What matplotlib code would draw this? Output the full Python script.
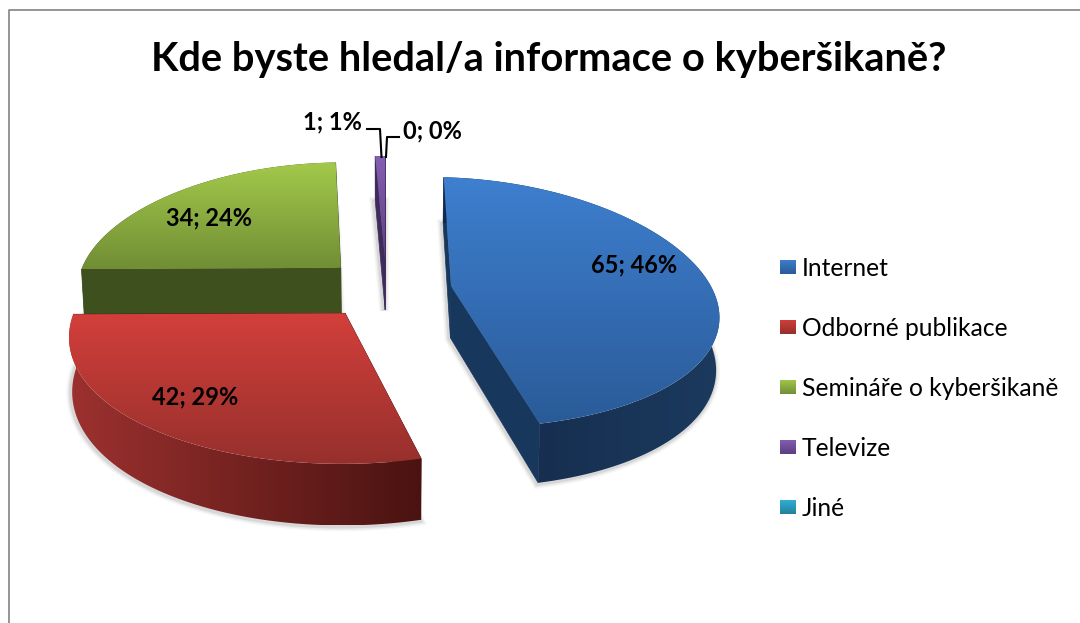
import numpy as np
import matplotlib
matplotlib.use("Agg")
import matplotlib.pyplot as plt
from matplotlib.colors import to_rgb
from matplotlib.patches import Polygon

plt.rcParams['font.family'] = ['Lato', 'DejaVu Sans']

categories = ["Internet", "Odborné publikace", "Semináře o kyberšikaně", "Televize", "Jiné"]
values = [65, 42, 34, 1, 0]
percents = [46, 29, 24, 1, 0]
title = "Kde byste hledal/a informace o kyberšikaně?"

# colours of the faces (light, dark)
top_colors = [("#3e7fcf", "#2a5b98"), ("#d33f3b", "#96302c"), ("#a3c94b", "#718e35"),
              ("#8660b2", "#5b3e80"), ("#31b2d6", "#23809c")]
wall_colors = ["#18375c", "#4a1412", "#3f501f", "#3f2a5c", "#1c6a80"]
rim_colors = [("#14294a", "#1b3a5e"), ("#9c312f", "#4a1311"), ("#3f501f", "#3f501f"),
              ("#3f2a5c", "#3f2a5c"), ("#1c6a80", "#1c6a80")]

# 3d look of the pie
xc, yc = 386.5, 289
rx, ry = 266, 124
persp = 0.13
explode = 0.246
depth = 52


def project(px, py):
    s = 1 / (1 + persp * py)
    # small correction, the sides of the pie sit lower than plain perspective gives
    return xc + rx * px * s, yc - ry * py * s + 5.5 * px ** 2 + 3.3 * px, s


def gradient(ax, pts, c1, c2, vertical=True):
    pts = np.array(pts)
    t = np.linspace(0, 1, 128)[:, None]
    col = np.array(to_rgb(c1)) * (1 - t) + np.array(to_rgb(c2)) * t
    img = col[:, None, :] if vertical else col[None, :, :]
    x0, x1 = pts[:, 0].min(), pts[:, 0].max()
    y0, y1 = pts[:, 1].min(), pts[:, 1].max()
    im = ax.imshow(img, extent=(x0, x1, y1, y0), aspect='auto', interpolation='bilinear', zorder=ax.zn)
    im.set_clip_path(Polygon(pts, closed=True, transform=ax.transData))
    ax.zn += 1


def flat(ax, pts, col):
    ax.add_patch(Polygon(pts, closed=True, fc=col, ec=col, lw=0.5, zorder=ax.zn))
    ax.zn += 1


fig = plt.figure(figsize=(10.8, 6.23), dpi=100)
ax = fig.add_axes([0, 0, 1, 1])
ax.zn = 2
ax.set_axis_off()

# frame of the chart area
ax.plot([8.5, 8.5, 1080], [623, 9.5, 9.5], color="#8c8c8c", lw=1.3, zorder=1)

total = sum(values)
sweeps = [v / total * 2 * np.pi for v in values]
starts = np.cumsum([0] + sweeps[:-1])

# back slices first, red one goes over the green wall
for i in [2, 3, 0, 1]:
    a0, a1 = starts[i], starts[i] + sweeps[i]
    mid = (a0 + a1) / 2
    ex, ey = explode * np.sin(mid), explode * np.cos(mid)
    ang = np.linspace(a0, a1, 120)
    arc = [project(ex + np.sin(a), ey + np.cos(a)) for a in ang]
    apex = project(ex, ey)

    top = [(apex[0], apex[1])] + [(p[0], p[1]) for p in arc]

    def low(p):
        return (xc + (p[0] - xc) * 0.99, p[1] + depth * p[2])

    # soft shadow around the base
    base = [low(apex)] + [low(p) for p in arc]
    for lw, alpha in [(7, 0.05), (5, 0.07), (3, 0.12)]:
        ax.add_patch(Polygon(np.array(base) + [-1, 1], closed=True, fc="none", ec="#555555", lw=lw,
                             alpha=alpha, zorder=ax.zn))
    ax.zn += 1

    # walls along the radii
    for p in [arc[0], arc[-1]]:
        flat(ax, [(apex[0], apex[1]), (p[0], p[1]), low(p), low(apex)], wall_colors[i])
    # outer wall
    rim = [(p[0], p[1]) for p in arc] + [low(p) for p in arc[::-1]]
    gradient(ax, rim, rim_colors[i][0], rim_colors[i][1], vertical=False)
    # top
    gradient(ax, top, top_colors[i][0], top_colors[i][1])

# labels on the slices
label_pos = [(634, 265), (195, 397), (209, 218), (332, 122), (432, 131)]
for i in range(len(values)):
    ax.text(label_pos[i][0], label_pos[i][1], f"{values[i]}; {percents[i]}%", ha='center', va='center',
            fontsize=17, fontweight='bold', color='black', zorder=500)

# leader lines of the two small labels
ax.plot([367, 380, 381.5], [129, 129, 157], color='black', lw=1.5, zorder=500)
ax.plot([399, 387, 386], [137, 137, 157], color='black', lw=1.5, zorder=500)

ax.text(548.5, 60, title, ha='center', va='center', fontsize=28.7, fontweight='bold', color='black', zorder=500)

# legend
for i, name in enumerate(categories):
    y = 267 + 60 * i
    gradient(ax, [(780, y - 7.5), (796, y - 7.5), (796, y + 7.5), (780, y + 7.5)], top_colors[i][0], top_colors[i][1])
    ax.text(802, y + 1, name, ha='left', va='center', fontsize=17.7, color='black', zorder=500)

ax.set_xlim(0, 1080)
ax.set_ylim(623, 0)
fig.savefig("out.png", dpi=100, facecolor='white')
